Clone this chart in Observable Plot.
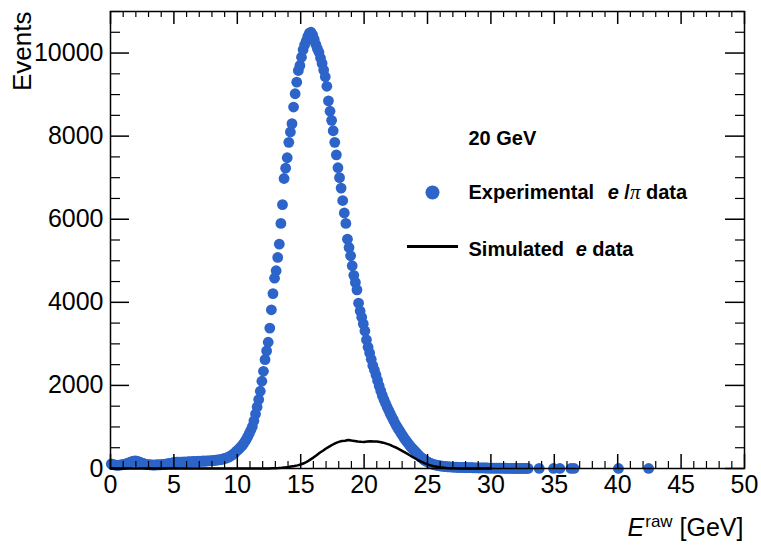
<!DOCTYPE html>
<html><head><meta charset="utf-8">
<script src="https://cdn.jsdelivr.net/npm/d3@7"></script>
<script src="https://cdn.jsdelivr.net/npm/@observablehq/plot@0.6"></script>
<style>body{margin:0;background:#fff;}</style>
</head><body><div id="chart"></div>
<script>
// ---- data ----
const binWidth = 0.125; // GeV per histogram bin, bins start at 0
const expCounts = [
  110, 95, 85, 80, 75, 80, 85, 90,
  100, 110, 120, 135, 150, 165, 175, 180,
  175, 165, 150, 135, 120, 110, 100, 95,
  90, 85, 85, 80, 85, 90, 85, 90,
  95, 100, 105, 110, 115, 125, 130, 140,
  145, 150, 150, 155, 150, 155, 160, 155,
  160, 165, 160, 165, 170, 165, 170, 175,
  170, 175, 180, 175, 180, 185, 185, 190,
  190, 195, 200, 205, 210, 215, 225, 235,
  245, 260, 275, 295, 320, 345, 380, 420,
  450, 490, 530, 575, 630, 690, 760, 840,
  920, 1010, 1150, 1310, 1480, 1660, 1860, 2100,
  2340, 2620, 2830, 3040, 3380, 3820, 4210, 4580,
  4760, 5080, 5400, 5900, 6350, 6980, 7230, 7480,
  7850, 8100, 8300, 8700, 9020, 9300, 9580, 9700,
  9900, 10080, 10200, 10290, 10400, 10480, 10500, 10440,
  10330, 10210, 10110, 10020, 9880, 9750, 9590, 9430,
  9200, 8850, 8600, 8380, 8130, 7850, 7550, 7240,
  7000, 6750, 6450, 6150, 5900, 5520, 5320, 5120,
  4880, 4650, 4480, 4300, 3980, 3790, 3640, 3480,
  3310, 3100, 2920, 2780, 2630, 2480, 2370, 2250,
  2120, 1990, 1870, 1760, 1660, 1570, 1480, 1400,
  1320, 1240, 1170, 1090, 1020, 960, 900, 840,
  780, 720, 670, 620, 570, 520, 480, 440,
  400, 360, 320, 280, 250, 220, 190, 170,
  150, 130, 115, 100, 90, 80, 72, 65,
  60, 55, 50, 46, 42, 40, 37, 35,
  33, 31, 30, 28, 27, 26, 25, 24,
  22, 21, 20, 19, 18, 17, 17, 16,
  15, 14, 14, 13, 12, 12, 11, 10,
  10, 9, 9, 8, 8, 7, 7, 7,
  6, 6, 5, 5, 5, 4, 4, 4,
  3, 3, 3, 3, 2, 2, 2, 2
];
const tailX = [33.81, 34.94, 35.44, 36.31, 36.56, 40.06, 42.44];
const tailCounts = [2, 1, 1, 1, 1, 1, 1];

const simStep = 0.25; // GeV, simulated curve starts at 0
const simCounts = [
  0,0,0,0,0,0,0,0,0,0, 0,0,0,0,0,0,0,0,0,0,
  0,0,0,0,0,0,0,0,0,0, 0,0,0,0,0,0,0,0,0,0,
  0,0,0,0,0,0,0,0,0,0,
  2, 5, 8, 12, 18, 26, 34, 46, 58, 76,
  96, 126, 164, 214, 262, 318, 378, 428, 482, 528,
  572, 612, 641, 660, 668, 688, 672, 664, 651, 644,
  639, 650, 654, 648, 650, 638, 622, 598, 574, 538,
  506, 466, 424, 382, 336, 290, 246, 204, 166, 130,
  100, 76, 55, 40, 28, 20, 13, 8, 5, 3,
  2, 1,
  0,0,0,0,0,0,0,0,0
];

const xMajor = [0, 5, 10, 15, 20, 25, 30, 35, 40, 45, 50];
const yMajor = [0, 2000, 4000, 6000, 8000, 10000];
const xMinor = d3.range(0, 51, 1).filter(d => d % 5 !== 0);
const yMinor = d3.range(0, 11001, 500).filter(d => d % 2000 !== 0);

const legendTitle = "20 GeV";
const legendExp = "Experimental e /π data";
const legendSim = "Simulated e data";
const yLabel = "Events";

// ---- build tables ----
const expData = expCounts.map((v, i) => ({x: (i + 0.5) * binWidth, y: v}));
const tailData = tailX.map((x, i) => ({x, y: tailCounts[i]}));
const simData = simCounts.map((v, i) => ({x: i * simStep, y: v}));

const W = 761, H = 546, mL = 110, mR = 17, mT = 11, mB = 78;
const pw = W - mL - mR, ph = H - mT - mB;
const blue = "#2c64c9";

const chart = Plot.plot({
  width: W, height: H,
  marginLeft: mL, marginRight: mR, marginTop: mT, marginBottom: mB,
  x: {domain: [0, 50]},
  y: {domain: [0, 11000]},
  style: {fontFamily: "'Liberation Sans', Arial, sans-serif", fontSize: "25px", background: "white", color: "black"},
  marks: [
    Plot.dot(expData, {x: "x", y: "y", r: 5.4, fill: blue}),
    Plot.dot(tailData, {x: "x", y: "y", r: 5.4, fill: blue}),
    Plot.line(simData, {x: "x", y: "y", stroke: "black", strokeWidth: 2.5}),
    Plot.frame({stroke: "black", strokeWidth: 1.5}),
    // inward ticks: bottom / top
    Plot.tickX(xMajor, {x: d => d, insetTop: ph - 14, stroke: "black", strokeWidth: 1.5}),
    Plot.tickX(xMinor, {x: d => d, insetTop: ph - 7, stroke: "black", strokeWidth: 1.2}),
    Plot.tickX(xMajor, {x: d => d, insetBottom: ph - 13, stroke: "black", strokeWidth: 1.5}),
    Plot.tickX(xMinor, {x: d => d, insetBottom: ph - 6, stroke: "black", strokeWidth: 1.2}),
    // inward ticks: left / right
    Plot.tickY(yMajor, {y: d => d, insetRight: pw - 19, stroke: "black", strokeWidth: 1.5}),
    Plot.tickY(yMinor, {y: d => d, insetRight: pw - 10, stroke: "black", strokeWidth: 1.2}),
    Plot.tickY(yMajor, {y: d => d, insetLeft: pw - 19, stroke: "black", strokeWidth: 1.5}),
    Plot.tickY(yMinor, {y: d => d, insetLeft: pw - 9, stroke: "black", strokeWidth: 1.2}),
    Plot.axisX(xMajor, {tickSize: 0, tickPadding: 7, tickFormat: d => String(d), label: null, fontSize: 25}),
    Plot.axisY(yMajor, {tickSize: 0, tickPadding: 7, tickFormat: d => String(d), label: null, fontSize: 25}),
    // axis titles
    Plot.text([yLabel], {text: d => d, frameAnchor: "top-left", dx: -88, dy: 0, rotate: -90, textAnchor: "end", lineAnchor: "middle", fontSize: 26}),
    Plot.text(["XLABEL"], {text: d => d, frameAnchor: "bottom-right", dx: -1, dy: 67, textAnchor: "end", lineAnchor: "bottom", fontSize: 25}),
    // legend
    Plot.text([legendTitle], {text: d => d, frameAnchor: "top-left", dx: 358, dy: 133, textAnchor: "start", lineAnchor: "bottom", fontWeight: "bold", fontSize: 20}),
    Plot.dot([0], {frameAnchor: "top-left", dx: 322, dy: 181, r: 7, fill: blue}),
    Plot.text(["LEG_EXP"], {text: d => d, frameAnchor: "top-left", dx: 358, dy: 187, textAnchor: "start", lineAnchor: "bottom", fontWeight: "bold", fontSize: 20}),
    Plot.ruleY([0], {y: d => d, dy: -222, insetLeft: 297, insetRight: 286, stroke: "black", strokeWidth: 3}),
    Plot.text(["LEG_SIM"], {text: d => d, frameAnchor: "top-left", dx: 358, dy: 244, textAnchor: "start", lineAnchor: "bottom", fontWeight: "bold", fontSize: 20})
  ]
});

// rich text (italics / superscript) for the axis title and legend entries
const NS = "http://www.w3.org/2000/svg";
function rich(t, parts) {
  t.textContent = "";
  for (const p of parts) {
    const s = document.createElementNS(NS, "tspan");
    s.textContent = p.t;
    if (p.i) s.setAttribute("font-style", "italic");
    if (p.fs) s.setAttribute("font-size", p.fs);
    if (p.dy) s.setAttribute("dy", p.dy);
    if (p.dx) s.setAttribute("dx", p.dx);
    if (p.ff) s.setAttribute("font-family", p.ff);
    if (p.fw) s.setAttribute("font-weight", p.fw);
    t.appendChild(s);
  }
}
chart.querySelectorAll("text").forEach(t => {
  if (t.textContent === "XLABEL") {
    rich(t, [{t: "E", i: true}, {t: "raw", fs: 17, dy: -9, dx: 1}, {t: " [GeV]", fs: 25, dy: 9}]);
  } else if (t.textContent === "LEG_EXP") {
    const [a, b] = legendExp.split(" e /π ");
    rich(t, [{t: a + " "}, {t: "e", i: true, dx: 8}, {t: " /", dx: 0}, {t: "π", i: true, fw: "normal", ff: "'Liberation Serif', 'DejaVu Serif', serif", fs: 21}, {t: " " + b}]);
  } else if (t.textContent === "LEG_SIM") {
    const [a, b] = legendSim.split(" e ");
    rich(t, [{t: a + " "}, {t: "e", i: true, dx: 6}, {t: " " + b}]);
  }
});

document.getElementById("chart").appendChild(chart);
</script>
</body></html>
